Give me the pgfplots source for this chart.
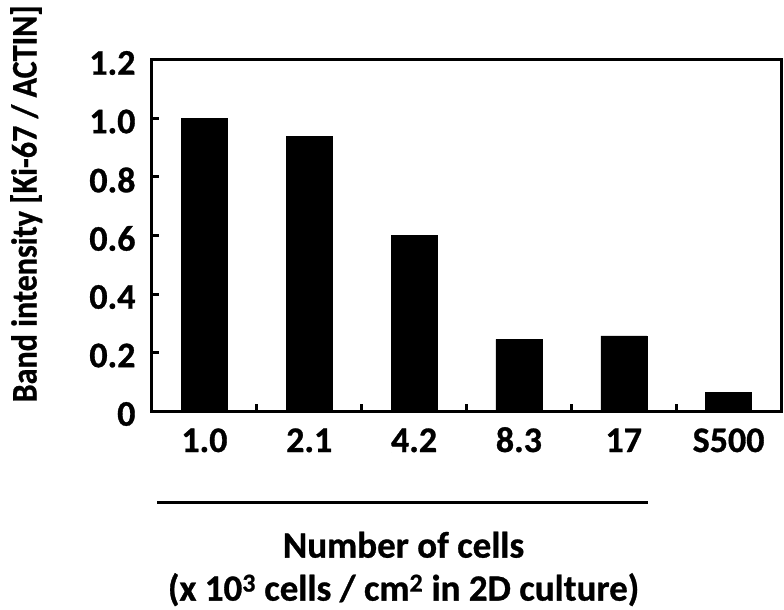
\documentclass[border=0pt]{standalone}
\usepackage{pgfplots}
\pgfplotsset{compat=1.18}
\usepackage{fontspec}
\setmainfont{Carlito}[BoldFeatures={FakeBold=0.8}]
\begin{document}
\begin{tikzpicture}
\useasboundingbox (-152pt,-199pt) rectangle (632pt,411pt);
\begin{axis}[
    scale only axis,
    width=629pt, height=351pt,
    xmin=-0.5, xmax=5.5, ymin=0, ymax=1.2,
    ytick={0,0.2,0.4,0.6,0.8,1.0,1.2},
    yticklabels={0,0.2,0.4,0.6,0.8,1.0,1.2},
    xtick={0,1,2,3,4,5},
    xticklabels={1.0,2.1,4.2,8.3,17,S500},
    minor xtick={0.5,1.5,2.5,3.5,4.5},
    major x tick style={draw=none},
    tick pos=left,
    tick align=inside,
    major tick length=7pt, minor tick length=7pt,
    axis line style={line width=3pt},
    every tick/.style={line width=3pt, black},
    tick label style={font=\fontsize{36}{43}\selectfont\bfseries},
    xticklabel style={anchor=base, yshift=-41pt},
    yticklabel style={xshift=-13pt, yshift=-3pt},
    label style={font=\fontsize{36}{43}\selectfont\bfseries},
    ylabel={\scalebox{0.89}[1]{Band intensity [Ki-67 / ACTIN]}},
    ylabel style={at={(axis description cs:-0.2,0.59)}, anchor=center},
    xlabel={Number of cells\\(x 10\textsuperscript{3} cells / cm\textsuperscript{2} in 2D culture)},
    xlabel style={at={(axis description cs:0.4,-0.45)}, anchor=center, align=center,
      font=\fontsize{37}{43}\selectfont\bfseries},
    clip=false,
  ]
  \addplot[ybar, bar width=46pt, fill=black, draw=black] coordinates {
      (0, 1.00)
      (1, 0.94)
      (2, 0.60)
      (3, 0.245)
      (4, 0.257)
      (5, 0.063)
    };
  \draw[line width=3pt] (axis description cs:0.008,-0.262) -- (axis description cs:0.789,-0.262);
\end{axis}
\end{tikzpicture}
\end{document}
